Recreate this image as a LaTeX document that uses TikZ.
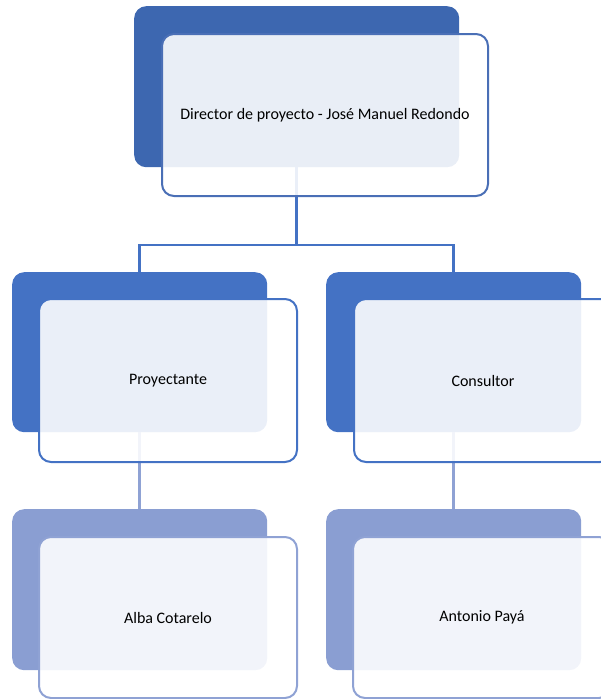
\documentclass[tikz,border=0pt]{standalone}
\usepackage{fontspec}
\setmainfont{Carlito}
\definecolor{topdark}{HTML}{3D67B0}
\definecolor{midblue}{HTML}{4472C4}
\definecolor{lowblue}{HTML}{8A9ED2}
\definecolor{lowline}{HTML}{8FA2D4}
\definecolor{topline}{HTML}{4A6FB6}
\begin{document}
\begin{tikzpicture}[x=1pt,y=-1pt,
  darkbox/.style={rounded corners=12pt, inner sep=0pt, anchor=north west, draw=none},
  lightbox/.style={rounded corners=12pt, inner sep=0pt, anchor=north west, line width=2pt,
     fill=white, fill opacity=0.89, text opacity=1, font=\fontsize{16}{19}\selectfont},
  topconn/.style={draw=midblue, line width=2.5pt},
  lowconn/.style={draw=lowline, line width=2.8pt}]
\useasboundingbox (0,0) rectangle (601,699);
\clip (0,0) rectangle (601,699);
% dark boxes
\node[darkbox, fill=topdark, minimum width=325pt, minimum height=161pt] (d0) at (134,6) {};
\node[darkbox, fill=midblue, minimum width=255pt, minimum height=160pt] (d1) at (12,272) {};
\node[darkbox, fill=midblue, minimum width=255pt, minimum height=160pt] (d2) at (326,272) {};
\node[darkbox, fill=lowblue, minimum width=255pt, minimum height=161pt] (d3) at (12,509) {};
\node[darkbox, fill=lowblue, minimum width=255pt, minimum height=161pt] (d4) at (326,509) {};
% connectors
\coordinate (bus) at (0,245);
\draw[topconn] (d0.south) -- (d0.south |- bus);
\draw[topconn] (d1.north) |- (d0.south |- bus) -| (d2.north);
\draw[lowconn] (d1.south) -- (d3.north);
\draw[lowconn] (d2.south) -- (d4.north);
% light boxes
\node[lightbox, draw=topline, minimum width=326pt, minimum height=162pt] (l0) at (161,33) {Director de proyecto - José Manuel Redondo};
\node[lightbox, draw=midblue, minimum width=258pt, minimum height=163pt] (l1) at (38,298) {Proyectante};
\node[lightbox, draw=midblue, minimum width=258pt, minimum height=163pt] (l2) at (353,298) {Consultor};
\node[lightbox, draw=lowline, minimum width=258pt, minimum height=161pt] (l3) at (38,536) {Alba Cotarelo};
\node[lightbox, draw=lowline, minimum width=258pt, minimum height=161pt] (l4) at (352,536) {Antonio Payá};
\end{tikzpicture}
\end{document}
